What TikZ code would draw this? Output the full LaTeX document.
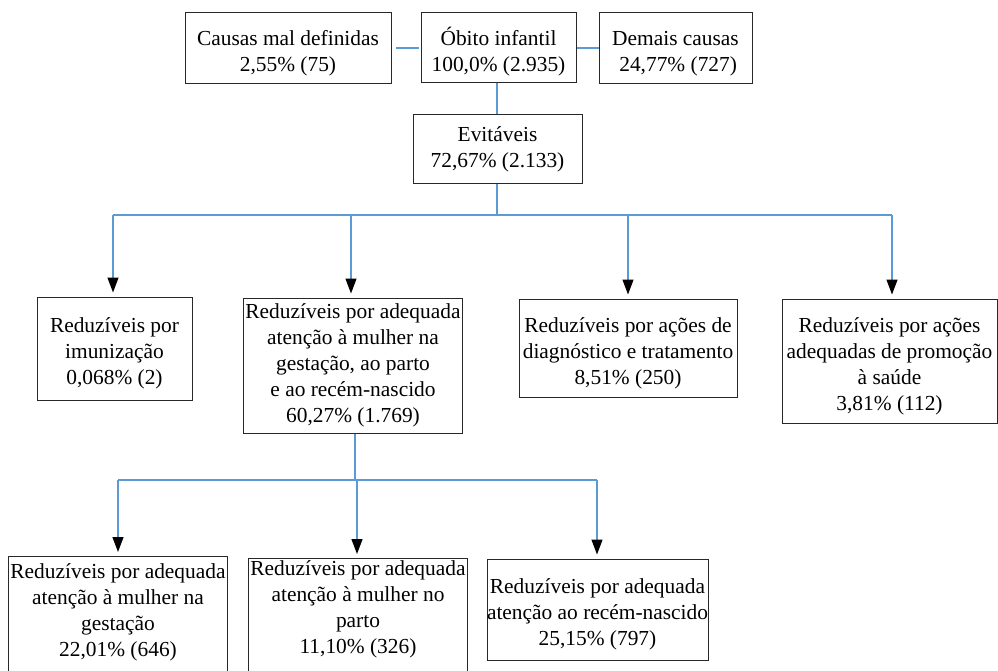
\documentclass[tikz,border=0pt]{standalone}
\usepackage{fontspec}
\setmainfont{Liberation Serif}
\usetikzlibrary{arrows.meta}
\definecolor{connblue}{RGB}{91,155,213}
\definecolor{boxline}{RGB}{40,40,40}
\newcommand{\toppad}{\rule{0pt}{25pt}}
\tikzset{
  basebox/.style={draw=boxline, line width=1pt, align=center, inner sep=2pt,
    font=\fontsize{21.4}{26}\selectfont},
  box/.style={basebox},
  cutbox/.style={basebox, anchor=north, text depth=120pt},
  conn/.style={draw=connblue, line width=1.3pt},
  arr/.style={conn, -{Triangle[color=black, width=11pt, length=15pt]}, shorten >=4pt}
}
\begin{document}
\begin{tikzpicture}[x=1pt, y=-1pt]
\useasboundingbox (0,0) rectangle (998,671);
% top row
\node[box, minimum width=206pt, minimum height=71pt] (causas) at (288,48) {\toppad Causas mal definidas\\2,55\% (75)};
\node[box, minimum width=155pt, minimum height=70pt] (obito) at (498.5,48) {\toppad Óbito infantil\\100,0\% (2.935)};
\node[box, minimum width=153pt, minimum height=71pt] (demais) at (675.5,48) {\toppad Demais causas\\\ 24,77\% (727)};
\node[box, minimum width=169pt, minimum height=69pt] (evit) at (497.5,149.5) {Evitáveis\\72,67\% (2.133)};
% middle row
\node[box, minimum width=155pt, minimum height=103pt] (imun) at (114.5,348.5) {\toppad Reduzíveis por\\imunização\\0,068\% (2)};
\node[box, minimum width=218pt, minimum height=135pt] (med) at (353,365.5) {Reduzíveis por adequada\\atenção à mulher na\\gestação, ao parto\\e ao recém-nascido\\60,27\% (1.769)};
\node[box, minimum width=218pt, minimum height=98pt] (diag) at (628,348) {\toppad Reduzíveis por ações de\\diagnóstico e tratamento\\8,51\% (250)};
\node[box, minimum width=215pt, minimum height=124pt] (prom) at (889.5,361) {\toppad Reduzíveis por ações\\adequadas de promoção\\à saúde\\3,81\% (112)};
% bottom row
\node[cutbox, minimum width=218pt, inner ysep=7pt] (gest) at (118,556) {Reduzíveis por adequada\\atenção à mulher na\\gestação\\22,01\% (646)};
\node[cutbox, minimum width=218pt, inner ysep=2pt] (parto) at (358,558) {Reduzíveis por adequada\\atenção à mulher no\\parto\\11,10\% (326)};
\node[box, minimum width=219pt, minimum height=101pt, inner xsep=0pt] (rn) at (597.5,609.5) {\toppad Reduzíveis por adequada\\atenção ao recém-nascido\\25,15\% (797)};
% top connectors
\draw[conn] ([xshift=4pt]causas.east) -- ([xshift=-2pt]obito.west);
\draw[conn] (obito.east) -- (demais.west);
\coordinate (ov) at (497,83);
\draw[conn] (ov) -- (ov |- evit.north);
% first bus
\coordinate (b0) at (497,215);
\coordinate (b1) at (113,215);
\coordinate (b2) at (351,215);
\coordinate (b3) at (628,215);
\coordinate (b4) at (892,215);
\draw[conn] (b0 |- evit.south) -- (b0);
\draw[conn] (b1) -- (b4);
\draw[arr] (b1) -- (b1 |- imun.north);
\draw[arr] (b2) -- (b2 |- med.north);
\draw[arr] (b3) -- (b3 |- diag.north);
\draw[arr] (b4) -- (b4 |- prom.north);
% second bus
\coordinate (c0) at (355,480);
\coordinate (c1) at (118,480);
\coordinate (c2) at (357,480);
\coordinate (c3) at (597,480);
\draw[conn] (c0 |- med.south) -- (c0);
\draw[conn] (c1) -- (c3);
\draw[arr] (c1) -- (c1 |- gest.north);
\draw[arr] (c2) -- (c2 |- parto.north);
\draw[arr] (c3) -- (c3 |- rn.north);
\end{tikzpicture}
\end{document}
